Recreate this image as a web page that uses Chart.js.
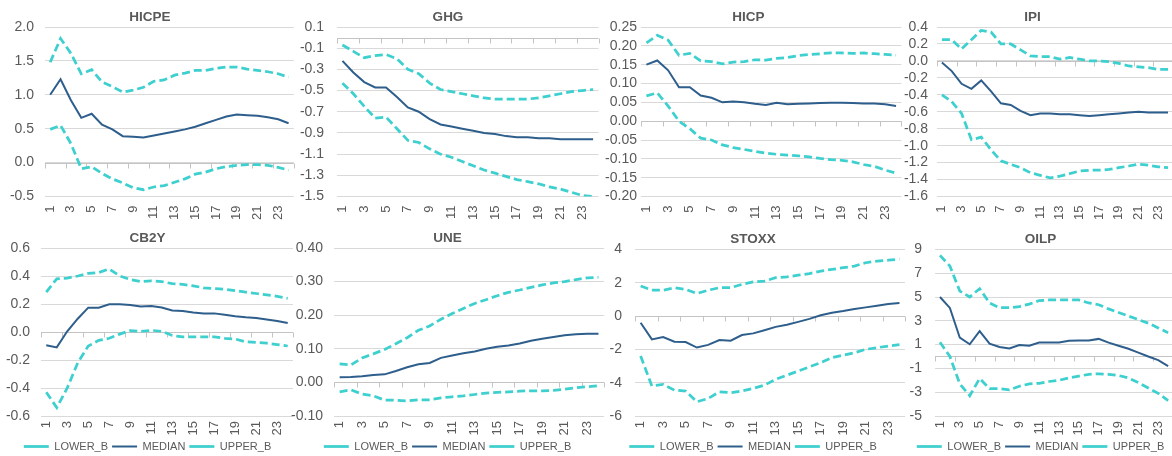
<!DOCTYPE html>
<html>
<head>
<meta charset="utf-8">
<script src="https://cdn.jsdelivr.net/npm/chart.js@4.4.1/dist/chart.umd.min.js"></script>
<style>
html, body { margin: 0; padding: 0; background: #fff; overflow: hidden; width: 1172px; height: 456px; }
.panel { position: absolute; }
</style>
</head>
<body>
<script>
// horizontes
var periods = ['1','2','3','4','5','6','7','8','9','10','11','12','13','14','15','16','17','18','19','20','21','22','23','24'];

// HICPE
var hicpeLower  = [0.49,0.55,0.28,-0.09,-0.06,-0.16,-0.24,-0.30,-0.37,-0.40,-0.36,-0.34,-0.29,-0.24,-0.17,-0.14,-0.09,-0.06,-0.04,-0.03,-0.03,-0.04,-0.07,-0.11];
var hicpeMedian = [1.00,1.23,0.92,0.66,0.72,0.56,0.49,0.39,0.38,0.37,0.40,0.43,0.46,0.49,0.53,0.58,0.63,0.68,0.71,0.70,0.69,0.67,0.64,0.58];
var hicpeUpper  = [1.48,1.83,1.61,1.31,1.37,1.19,1.12,1.04,1.07,1.11,1.20,1.22,1.29,1.32,1.36,1.36,1.39,1.41,1.41,1.38,1.36,1.34,1.31,1.26];

// GHG
var ghgLower  = [-0.43,-0.53,-0.65,-0.76,-0.75,-0.86,-0.97,-0.99,-1.05,-1.10,-1.13,-1.17,-1.21,-1.25,-1.28,-1.31,-1.34,-1.36,-1.38,-1.41,-1.43,-1.46,-1.49,-1.50];
var ghgMedian = [-0.22,-0.33,-0.42,-0.47,-0.47,-0.56,-0.66,-0.70,-0.77,-0.82,-0.84,-0.86,-0.88,-0.90,-0.91,-0.93,-0.94,-0.94,-0.95,-0.95,-0.96,-0.96,-0.96,-0.96];
var ghgUpper  = [-0.07,-0.13,-0.19,-0.17,-0.16,-0.20,-0.30,-0.34,-0.43,-0.49,-0.51,-0.53,-0.55,-0.57,-0.58,-0.58,-0.58,-0.58,-0.57,-0.55,-0.53,-0.51,-0.50,-0.49];

// HICP
var hicpLower  = [0.067,0.075,0.040,0.000,-0.020,-0.045,-0.050,-0.063,-0.070,-0.075,-0.080,-0.085,-0.088,-0.090,-0.092,-0.095,-0.099,-0.102,-0.104,-0.108,-0.115,-0.120,-0.130,-0.138];
var hicpMedian = [0.150,0.161,0.135,0.090,0.090,0.068,0.062,0.050,0.052,0.050,0.046,0.043,0.049,0.045,0.046,0.047,0.048,0.049,0.049,0.048,0.047,0.047,0.045,0.040];
var hicpUpper  = [0.208,0.228,0.215,0.175,0.180,0.160,0.158,0.152,0.157,0.158,0.163,0.162,0.167,0.169,0.174,0.177,0.179,0.181,0.181,0.180,0.181,0.179,0.177,0.175];

// IPI
var ipiLower  = [-0.40,-0.48,-0.62,-0.93,-0.90,-1.05,-1.18,-1.22,-1.26,-1.32,-1.35,-1.38,-1.36,-1.33,-1.30,-1.29,-1.29,-1.28,-1.26,-1.24,-1.22,-1.23,-1.25,-1.26];
var ipiMedian = [-0.02,-0.12,-0.27,-0.33,-0.23,-0.36,-0.50,-0.52,-0.59,-0.64,-0.62,-0.62,-0.63,-0.63,-0.64,-0.65,-0.64,-0.63,-0.62,-0.61,-0.60,-0.61,-0.61,-0.61];
var ipiUpper  = [0.25,0.25,0.14,0.25,0.36,0.34,0.20,0.20,0.13,0.06,0.05,0.05,0.02,0.04,0.02,0.00,0.00,-0.01,-0.03,-0.06,-0.07,-0.08,-0.10,-0.10];

// CB2Y
var cb2yLower  = [-0.43,-0.54,-0.40,-0.22,-0.10,-0.06,-0.045,-0.015,0.010,0.005,0.012,0.005,-0.025,-0.035,-0.035,-0.035,-0.035,-0.045,-0.050,-0.070,-0.075,-0.080,-0.090,-0.100];
var cb2yMedian = [-0.095,-0.110,0.005,0.095,0.174,0.174,0.198,0.198,0.193,0.183,0.185,0.175,0.153,0.150,0.140,0.133,0.133,0.123,0.113,0.105,0.100,0.090,0.078,0.064];
var cb2yUpper  = [0.285,0.380,0.385,0.400,0.418,0.425,0.450,0.400,0.375,0.360,0.365,0.360,0.345,0.340,0.330,0.315,0.310,0.305,0.295,0.285,0.275,0.265,0.255,0.240];

// UNE
var uneLower  = [-0.028,-0.022,-0.035,-0.040,-0.053,-0.053,-0.055,-0.052,-0.052,-0.046,-0.043,-0.040,-0.036,-0.032,-0.030,-0.028,-0.026,-0.025,-0.025,-0.024,-0.020,-0.016,-0.013,-0.010];
var uneMedian = [0.015,0.016,0.018,0.022,0.024,0.034,0.045,0.054,0.058,0.073,0.080,0.087,0.092,0.100,0.106,0.110,0.116,0.124,0.130,0.135,0.140,0.143,0.145,0.145];
var uneUpper  = [0.055,0.052,0.073,0.085,0.098,0.115,0.133,0.155,0.168,0.188,0.205,0.220,0.235,0.246,0.258,0.268,0.275,0.283,0.290,0.296,0.300,0.306,0.311,0.313];

// STOXX
var stoxxLower  = [-2.40,-4.20,-4.10,-4.45,-4.50,-5.15,-4.95,-4.55,-4.60,-4.50,-4.35,-4.15,-3.80,-3.55,-3.30,-3.05,-2.80,-2.50,-2.35,-2.20,-2.00,-1.90,-1.80,-1.72];
var stoxxMedian = [-0.40,-1.40,-1.26,-1.54,-1.56,-1.89,-1.73,-1.44,-1.48,-1.14,-1.04,-0.85,-0.65,-0.52,-0.35,-0.17,0.05,0.20,0.30,0.42,0.52,0.62,0.72,0.78];
var stoxxUpper  = [1.80,1.55,1.55,1.70,1.60,1.35,1.55,1.70,1.70,1.90,2.05,2.10,2.30,2.35,2.45,2.55,2.70,2.80,2.90,3.00,3.20,3.30,3.35,3.42];

// OILP
var oilpLower  = [1.2,0.0,-2.3,-3.3,-1.85,-2.7,-2.7,-2.8,-2.5,-2.3,-2.25,-2.1,-2.0,-1.8,-1.65,-1.5,-1.45,-1.5,-1.6,-1.8,-2.2,-2.65,-3.1,-3.7];
var oilpMedian = [5.0,4.08,1.58,1.03,2.14,1.08,0.80,0.67,0.97,0.90,1.17,1.17,1.17,1.33,1.35,1.35,1.48,1.17,0.90,0.65,0.33,0.0,-0.30,-0.80];
var oilpUpper  = [8.5,7.6,5.5,5.0,5.7,4.5,4.1,4.1,4.2,4.4,4.7,4.75,4.75,4.75,4.75,4.5,4.35,4.0,3.7,3.4,3.1,2.8,2.4,2.0];

var TURQ = '#3ECFCF';
var BLUE = '#2E5E8B';
var TEXT = '#595959';

Chart.defaults.font.family = "'Liberation Sans', Arial, sans-serif";
Chart.defaults.color = TEXT;

// painéis: dados + posição na página
var panels = [
  { name: 'HICPE', lower: hicpeLower, median: hicpeMedian, upper: hicpeUpper, min: -0.5, max: 2.0, step: 0.5, dec: 1, left: 0,   top: 0,   plotLeft: 45,  plotRight: 300,  pad: 11, legend: false },
  { name: 'GHG',   lower: ghgLower,   median: ghgMedian,   upper: ghgUpper,   min: -1.5, max: 0.1, step: 0.2, dec: 1, left: 292, top: 0,   plotLeft: 337, plotRight: 604,  pad: 13, legend: false },
  { name: 'HICP',  lower: hicpLower,  median: hicpMedian,  upper: hicpUpper,  min: -0.2, max: 0.25, step: 0.05, dec: 2, left: 590, top: 0, plotLeft: 641, plotRight: 907,  pad: 4,  legend: false },
  { name: 'IPI',   lower: ipiLower,   median: ipiMedian,   upper: ipiUpper,   min: -1.6, max: 0.4, step: 0.2, dec: 1, left: 885, top: 0,   plotLeft: 937, plotRight: 1180, pad: 9,  legend: false },
  { name: 'CB2Y',  lower: cb2yLower,  median: cb2yMedian,  upper: cb2yUpper,  min: -0.6, max: 0.6, step: 0.2, dec: 1, left: 0,   top: 228, plotLeft: 41,  plotRight: 295,  pad: 11, legend: true },
  { name: 'UNE',   lower: uneLower,   median: uneMedian,   upper: uneUpper,   min: -0.1, max: 0.4, step: 0.1, dec: 2, left: 290, top: 228, plotLeft: 334, plotRight: 605,  pad: 11, legend: true },
  { name: 'STOXX', lower: stoxxLower, median: stoxxMedian, upper: stoxxUpper, min: -6,   max: 4,   step: 2,   dec: 0, left: 600, top: 228, plotLeft: 635, plotRight: 906,  pad: 13, legend: true },
  { name: 'OILP',  lower: oilpLower,  median: oilpMedian,  upper: oilpUpper,  min: -5,   max: 9,   step: 2,   dec: 0, left: 905, top: 228, plotLeft: 935, plotRight: 1176, pad: 13, legend: true }
];

// linha do eixo em zero com marcas a cada 2 períodos
var zeroAxis = {
  id: 'zeroAxis',
  beforeDatasetsDraw: function(chart) {
    var x = chart.scales.x, y = chart.scales.y, ctx = chart.ctx;
    var y0 = Math.round(y.getPixelForValue(0)) + 0.5;
    var w = x.getPixelForValue(1) - x.getPixelForValue(0);
    ctx.save();
    ctx.strokeStyle = '#c4c4c4';
    ctx.lineWidth = 1;
    ctx.beginPath();
    ctx.moveTo(chart.chartArea.left, y0);
    ctx.lineTo(chart.chartArea.right, y0);
    for (var i = 0; i <= periods.length; i += 2) {
      var bx = Math.round(x.getPixelForValue(0) - w / 2 + i * w) + 0.5;
      ctx.moveTo(bx, y0);
      ctx.lineTo(bx, y0 + 5);
    }
    ctx.stroke();
    ctx.restore();
  }
};

function makeChart(p) {
  var bottomRow = p.legend;
  var height = bottomRow ? 234 : 228;
  var width = p.plotRight - p.left + 3;

  var div = document.createElement('div');
  div.className = 'panel';
  div.style.left = p.left + 'px';
  div.style.top = p.top + 'px';
  div.style.width = width + 'px';
  div.style.height = height + 'px';
  var canvas = document.createElement('canvas');
  div.appendChild(canvas);
  document.body.appendChild(div);

  var yWidth = p.plotLeft - p.left;

  new Chart(canvas, {
    type: 'line',
    data: {
      labels: periods,
      datasets: [
        { label: 'LOWER_B', data: p.lower,  borderColor: TURQ, backgroundColor: TURQ, borderWidth: 2.75, borderDash: [8, 4] },
        { label: 'MEDIAN',  data: p.median, borderColor: BLUE, backgroundColor: BLUE, borderWidth: 2 },
        { label: 'UPPER_B', data: p.upper,  borderColor: TURQ, backgroundColor: TURQ, borderWidth: 2.75, borderDash: [8, 4] }
      ]
    },
    options: {
      responsive: true,
      maintainAspectRatio: false,
      animation: false,
      elements: { point: { radius: 0 }, line: { tension: 0, fill: false } },
      layout: { padding: { left: 0, right: 3, top: 0, bottom: bottomRow ? 0 : 1.5 } },
      plugins: {
        title: {
          display: true,
          text: p.name,
          color: TEXT,
          font: { size: 13.5, weight: 'bold' },
          padding: bottomRow ? { top: 2, bottom: 1.8 } : { top: 9, bottom: 1.8 }
        },
        legend: {
          display: p.legend,
          position: 'bottom',
          labels: {
            usePointStyle: true,
            pointStyle: 'line',
            pointStyleWidth: 25,
            color: TEXT,
            font: { size: 11 },
            padding: 4
          }
        },
        tooltip: { enabled: false }
      },
      scales: {
        x: {
          offset: true,
          grid: { display: false, drawTicks: false },
          border: { display: false },
          ticks: {
            autoSkip: false,
            maxRotation: 90,
            minRotation: 90,
            padding: bottomRow ? 5 : 9,
            color: TEXT,
            font: { size: 13 },
            callback: function(v, i) { return i % 2 === 0 ? periods[i] : null; }
          },
          afterFit: function(s) { s.height = bottomRow ? 21 : 30; }
        },
        y: {
          min: p.min,
          max: p.max,
          grid: { color: '#d9d9d9', drawTicks: false },
          border: { display: false },
          ticks: {
            autoSkip: false,
            stepSize: p.step,
            padding: p.pad,
            color: TEXT,
            font: { size: 14 },
            callback: function(v) { if (Math.abs(v) < 1e-9) v = 0; return Number(v).toFixed(p.dec); }
          },
          afterFit: function(s) { s.width = yWidth; }
        }
      }
    },
    plugins: [zeroAxis]
  });
}

panels.forEach(makeChart);
</script>
</body>
</html>
